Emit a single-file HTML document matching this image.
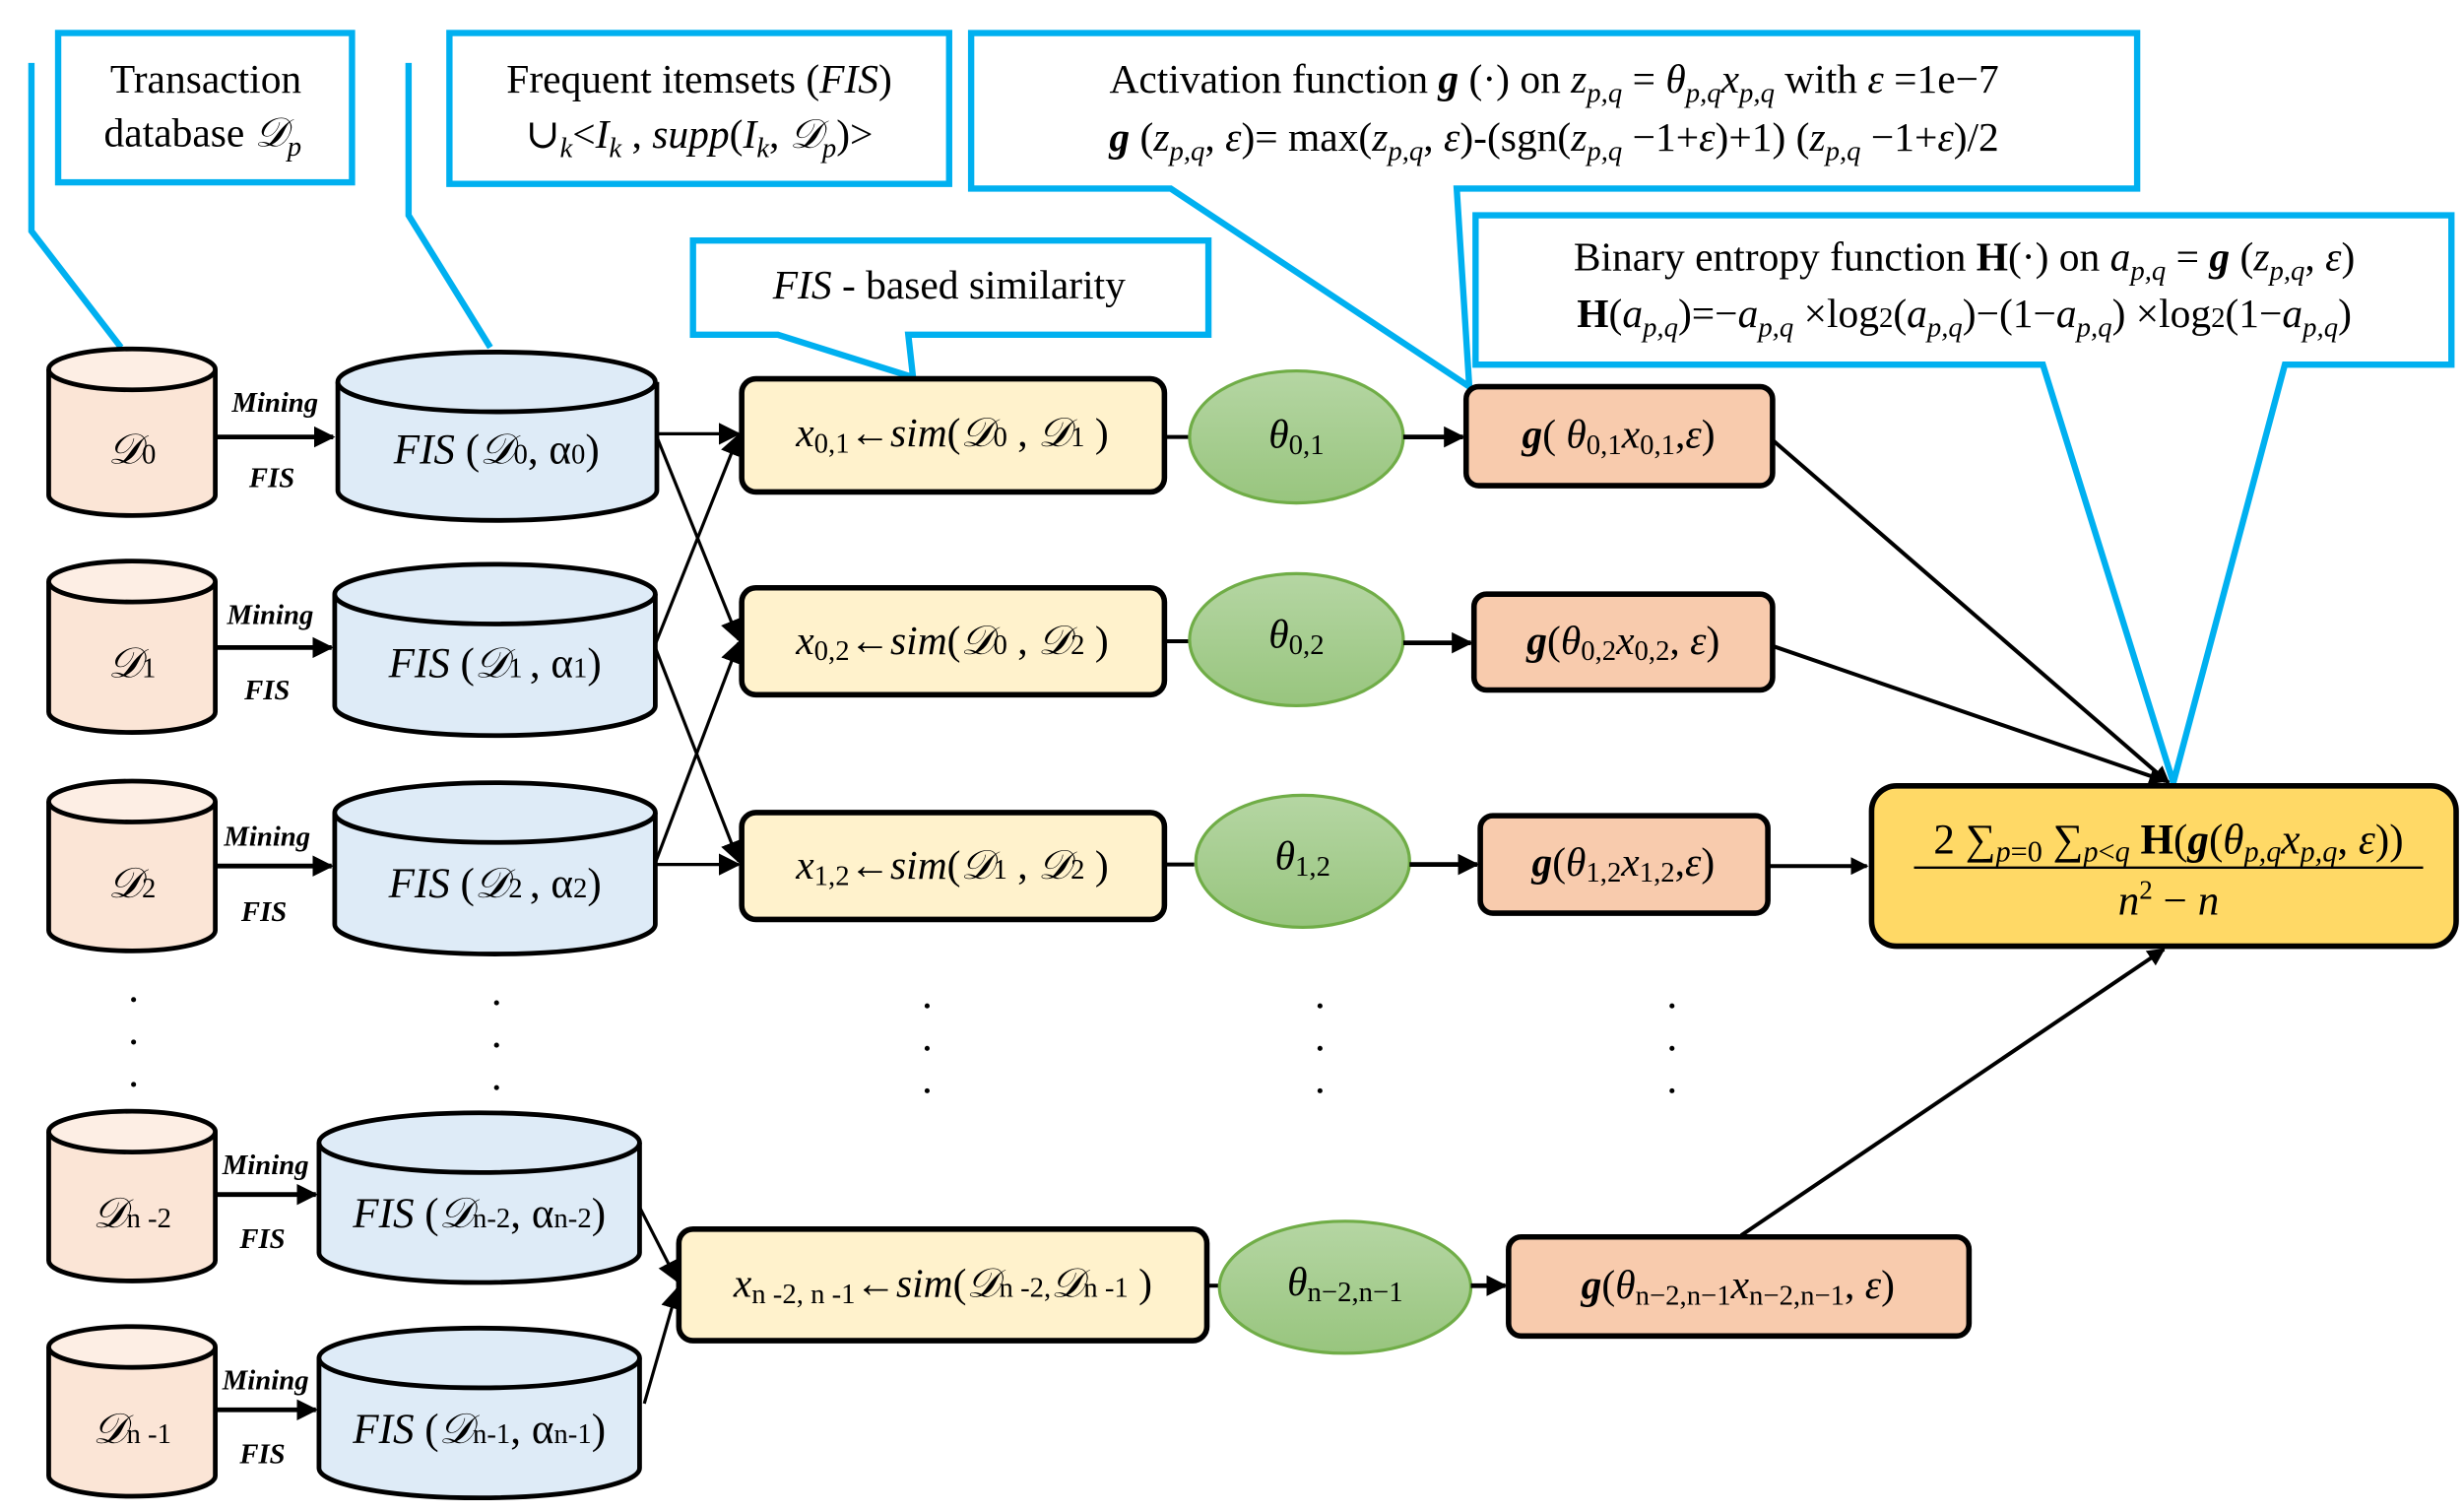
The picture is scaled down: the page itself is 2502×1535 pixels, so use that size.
<!DOCTYPE html>
<html><head><meta charset="utf-8"><style>
html,body{margin:0;padding:0;background:#fff;}
svg{display:block;}
svg text, svg tspan{font-family:"Liberation Serif","DejaVu Serif",serif;fill:#000;}
</style></head><body>
<svg width="2502" height="1535" viewBox="0 0 1568 962" preserveAspectRatio="none" xmlns="http://www.w3.org/2000/svg" font-family="Liberation Serif, DejaVu Serif, serif">
<defs>
<marker id="ah" viewBox="0 0 10 10" refX="9" refY="5" markerWidth="4.5" markerHeight="4.5" orient="auto" markerUnits="strokeWidth"><path d="M0,0L10,5L0,10z" fill="#000"/></marker>
<marker id="ah2" viewBox="0 0 10 10" refX="9" refY="5" markerWidth="7" markerHeight="7" orient="auto" markerUnits="strokeWidth"><path d="M0,0L10,5L0,10z" fill="#000"/></marker>
<linearGradient id="gr" x1="0" y1="0" x2="0" y2="1"><stop offset="0" stop-color="#b5d6a3"/><stop offset="1" stop-color="#98c57e"/></linearGradient>
</defs>

<!-- callouts -->
<g fill="#fff" stroke="#00b0f0" stroke-width="4">
<rect x="37" y="21" width="187" height="95"/>
<polyline points="20,40 20,147 77,221" fill="none"/>
<rect x="286" y="21" width="318" height="96"/>
<polyline points="260,40 260,137 312,221" fill="none"/>
<polygon points="618,21 1360,21 1360,120 927,120 935,246 745,120 618,120"/>
<polygon points="939,137 1560,137 1560,232 1454,232 1383,498 1300,232 939,232"/>
<polygon points="441,153 769,153 769,213 578,213 581,240 495,213 441,213"/>
</g>
<g font-size="26" text-anchor="middle">
<text x="131" y="59">Transaction</text>
<text x="129" y="93">database <tspan font-style="italic">𝒟<tspan font-size="18" dy="6">p</tspan></tspan></text>
<text x="445" y="59">Frequent itemsets (<tspan font-style="italic">FIS</tspan>)</text>
<text x="445" y="94">∪<tspan font-style="italic" font-size="18" dy="6">k</tspan><tspan dy="-6">&lt;</tspan><tspan font-style="italic">I<tspan font-size="18" dy="6">k</tspan></tspan><tspan dy="-6"> , </tspan><tspan font-style="italic">supp</tspan>(<tspan font-style="italic">I<tspan font-size="18" dy="6">k</tspan></tspan><tspan dy="-6">, </tspan><tspan font-style="italic">𝒟<tspan font-size="18" dy="6">p</tspan></tspan><tspan dy="-6">)&gt;</tspan></text>
<text x="989" y="59">Activation function <tspan font-weight="bold" font-style="italic">g</tspan> (·) on <tspan font-style="italic">z<tspan font-size="18" dy="6">p,q</tspan></tspan><tspan dy="-6"> = </tspan><tspan font-style="italic">θ<tspan font-size="18" dy="6">p,q</tspan><tspan dy="-6">x</tspan><tspan font-size="18" dy="6">p,q</tspan></tspan><tspan dy="-6"> with </tspan><tspan font-style="italic">ε</tspan> =1e−7</text>
<text x="989" y="96"><tspan font-weight="bold" font-style="italic">g</tspan> (<tspan font-style="italic">z<tspan font-size="18" dy="6">p,q</tspan></tspan><tspan dy="-6">, </tspan><tspan font-style="italic">ε</tspan>)= max(<tspan font-style="italic">z<tspan font-size="18" dy="6">p,q</tspan></tspan><tspan dy="-6">, </tspan><tspan font-style="italic">ε</tspan>)-(sgn(<tspan font-style="italic">z<tspan font-size="18" dy="6">p,q</tspan></tspan><tspan dy="-6"> −1+</tspan><tspan font-style="italic">ε</tspan>)+1) (<tspan font-style="italic">z<tspan font-size="18" dy="6">p,q</tspan></tspan><tspan dy="-6"> −1+</tspan><tspan font-style="italic">ε</tspan>)/2</text>
<text x="1250" y="172">Binary entropy function <tspan font-weight="bold">H</tspan>(·) on <tspan font-style="italic">a<tspan font-size="18" dy="6">p,q</tspan></tspan><tspan dy="-6"> = </tspan><tspan font-weight="bold" font-style="italic">g</tspan> (<tspan font-style="italic">z<tspan font-size="18" dy="6">p,q</tspan></tspan><tspan dy="-6">, </tspan><tspan font-style="italic">ε</tspan>)</text>
<text x="1250" y="208"><tspan font-weight="bold">H</tspan>(<tspan font-style="italic">a<tspan font-size="18" dy="6">p,q</tspan></tspan><tspan dy="-6">)=−</tspan><tspan font-style="italic">a<tspan font-size="18" dy="6">p,q</tspan></tspan><tspan dy="-6"> ×log</tspan><tspan font-size="18">2</tspan>(<tspan font-style="italic">a<tspan font-size="18" dy="6">p,q</tspan></tspan><tspan dy="-6">)−(1−</tspan><tspan font-style="italic">a<tspan font-size="18" dy="6">p,q</tspan></tspan><tspan dy="-6">) ×log</tspan><tspan font-size="18">2</tspan>(1−<tspan font-style="italic">a<tspan font-size="18" dy="6">p,q</tspan></tspan><tspan dy="-6">)</tspan></text>
<text x="604" y="190"><tspan font-style="italic">FIS</tspan> - based similarity</text>
</g>

<!-- D cylinders -->
<g stroke="#000" stroke-width="3" fill="#fbe5d6">
<path d="M31,235 L31,315 A53,13 0 0 0 137,315 L137,235"/><ellipse cx="84" cy="235" rx="53" ry="13" fill="#fdeee4"/>
<path d="M31,370 L31,453 A53,13 0 0 0 137,453 L137,370"/><ellipse cx="84" cy="370" rx="53" ry="13" fill="#fdeee4"/>
<path d="M31,510 L31,592 A53,13 0 0 0 137,592 L137,510"/><ellipse cx="84" cy="510" rx="53" ry="13" fill="#fdeee4"/>
<path d="M31,720 L31,802 A53,13 0 0 0 137,802 L137,720"/><ellipse cx="84" cy="720" rx="53" ry="13" fill="#fdeee4"/>
<path d="M31,857 L31,939 A53,13 0 0 0 137,939 L137,857"/><ellipse cx="84" cy="857" rx="53" ry="13" fill="#fdeee4"/>
</g>
<!-- FIS cylinders -->
<g stroke="#000" stroke-width="3" fill="#deebf7">
<path d="M215,243 L215,312 A101,19 0 0 0 418,312 L418,243"/><ellipse cx="316" cy="243" rx="101" ry="19"/>
<path d="M213,378 L213,449 A102,19 0 0 0 417,449 L417,378"/><ellipse cx="315" cy="378" rx="102" ry="19"/>
<path d="M213,517 L213,588 A102,19 0 0 0 417,588 L417,517"/><ellipse cx="315" cy="517" rx="102" ry="19"/>
<path d="M203,727 L203,797 A102,19 0 0 0 407,797 L407,727"/><ellipse cx="305" cy="727" rx="102" ry="19"/>
<path d="M203,864 L203,934 A102,19 0 0 0 407,934 L407,864"/><ellipse cx="305" cy="864" rx="102" ry="19"/>
</g>
<g font-size="27" text-anchor="middle" font-style="italic">
<text x="84" y="295">𝒟<tspan font-style="normal" font-size="18">0</tspan></text>
<text x="84" y="431">𝒟<tspan font-style="normal" font-size="18">1</tspan></text>
<text x="84" y="571">𝒟<tspan font-style="normal" font-size="18">2</tspan></text>
<text x="84" y="781">𝒟<tspan font-style="normal" font-size="18">n -2</tspan></text>
<text x="84" y="918">𝒟<tspan font-style="normal" font-size="18">n -1</tspan></text>
<text x="316" y="295">FIS <tspan font-style="normal">(</tspan>𝒟<tspan font-style="normal" font-size="18">0</tspan><tspan font-style="normal">, α</tspan><tspan font-style="normal" font-size="18">0</tspan><tspan font-style="normal">)</tspan></text>
<text x="315" y="431">FIS <tspan font-style="normal">(</tspan>𝒟<tspan font-style="normal" font-size="18">1 </tspan><tspan font-style="normal">, α</tspan><tspan font-style="normal" font-size="18">1</tspan><tspan font-style="normal">)</tspan></text>
<text x="315" y="571">FIS <tspan font-style="normal">(</tspan>𝒟<tspan font-style="normal" font-size="18">2 </tspan><tspan font-style="normal">, α</tspan><tspan font-style="normal" font-size="18">2</tspan><tspan font-style="normal">)</tspan></text>
<text x="305" y="781">FIS <tspan font-style="normal">(</tspan>𝒟<tspan font-style="normal" font-size="18">n-2</tspan><tspan font-style="normal">, α</tspan><tspan font-style="normal" font-size="18">n-2</tspan><tspan font-style="normal">)</tspan></text>
<text x="305" y="918">FIS <tspan font-style="normal">(</tspan>𝒟<tspan font-style="normal" font-size="18">n-1</tspan><tspan font-style="normal">, α</tspan><tspan font-style="normal" font-size="18">n-1</tspan><tspan font-style="normal">)</tspan></text>
</g>
<!-- mining labels -->
<g font-size="18" font-weight="bold" font-style="italic" text-anchor="middle">
<text x="175" y="262">Mining</text><text x="173" y="310">FIS</text>
<text x="172" y="397">Mining</text><text x="170" y="445">FIS</text>
<text x="170" y="538">Mining</text><text x="168" y="586">FIS</text>
<text x="169" y="747">Mining</text><text x="167" y="794">FIS</text>
<text x="169" y="884">Mining</text><text x="167" y="931">FIS</text>
</g>
<g stroke="#000" stroke-width="3" fill="none" marker-end="url(#ah)">
<line x1="137" y1="278" x2="212" y2="278"/>
<line x1="137" y1="412" x2="211" y2="412"/>
<line x1="137" y1="551" x2="211" y2="551"/>
<line x1="137" y1="760" x2="201" y2="760"/>
<line x1="137" y1="897" x2="201" y2="897"/>
</g>
<g stroke="#000" stroke-width="2" fill="none" marker-end="url(#ah2)">
<line x1="418" y1="276" x2="470" y2="276"/>
<line x1="418" y1="278" x2="470" y2="407"/>
<line x1="417" y1="410" x2="470" y2="277"/>
<line x1="417" y1="412" x2="470" y2="548"/>
<line x1="417" y1="549" x2="470" y2="409"/>
<line x1="417" y1="550" x2="470" y2="550"/>
<line x1="407" y1="768" x2="431" y2="815"/>
<line x1="410" y1="893" x2="431" y2="820"/>
</g>

<!-- sim boxes -->
<g stroke="#000" stroke-width="3.5" fill="#fff2cc">
<rect x="472" y="241" width="269" height="72" rx="9"/>
<rect x="472" y="374" width="269" height="68" rx="9"/>
<rect x="472" y="517" width="269" height="68" rx="9"/>
<rect x="432" y="782" width="336" height="71" rx="9"/>
</g>
<g font-size="26" text-anchor="middle" font-style="italic">
<text x="606" y="284">x<tspan font-style="normal" font-size="18" dy="4">0,1</tspan><tspan font-style="normal" dy="-4">←</tspan>sim<tspan font-style="normal">(</tspan>𝒟<tspan font-style="normal" font-size="18">0</tspan><tspan font-style="normal"> , </tspan>𝒟<tspan font-style="normal" font-size="18">1</tspan><tspan font-style="normal"> )</tspan></text>
<text x="606" y="416">x<tspan font-style="normal" font-size="18" dy="4">0,2</tspan><tspan font-style="normal" dy="-4">←</tspan>sim<tspan font-style="normal">(</tspan>𝒟<tspan font-style="normal" font-size="18">0</tspan><tspan font-style="normal"> , </tspan>𝒟<tspan font-style="normal" font-size="18">2</tspan><tspan font-style="normal"> )</tspan></text>
<text x="606" y="559">x<tspan font-style="normal" font-size="18" dy="4">1,2</tspan><tspan font-style="normal" dy="-4">←</tspan>sim<tspan font-style="normal">(</tspan>𝒟<tspan font-style="normal" font-size="18">1</tspan><tspan font-style="normal"> , </tspan>𝒟<tspan font-style="normal" font-size="18">2</tspan><tspan font-style="normal"> )</tspan></text>
<text x="600" y="825">x<tspan font-style="normal" font-size="18" dy="4">n -2, n -1</tspan><tspan font-style="normal" dy="-4">←</tspan>sim<tspan font-style="normal">(</tspan>𝒟<tspan font-style="normal" font-size="18">n -2,</tspan>𝒟<tspan font-style="normal" font-size="18">n -1</tspan><tspan font-style="normal"> )</tspan></text>
</g>
<g stroke="#000" stroke-width="2.5">
<line x1="741" y1="278" x2="757" y2="278"/>
<line x1="741" y1="408" x2="757" y2="408"/>
<line x1="741" y1="550" x2="760" y2="550"/>
<line x1="768" y1="818" x2="776" y2="818"/>
</g>
<g fill="url(#gr)" stroke="#70ad47" stroke-width="2">
<ellipse cx="825" cy="278" rx="68" ry="42"/>
<ellipse cx="825" cy="407" rx="68" ry="42"/>
<ellipse cx="829" cy="548" rx="68" ry="42"/>
<ellipse cx="856" cy="819" rx="80" ry="42"/>
</g>
<g font-size="26" text-anchor="middle" font-style="italic">
<text x="825" y="285">θ<tspan font-style="normal" font-size="18" dy="4">0,1</tspan></text>
<text x="825" y="412">θ<tspan font-style="normal" font-size="18" dy="4">0,2</tspan></text>
<text x="829" y="553">θ<tspan font-style="normal" font-size="18" dy="4">1,2</tspan></text>
<text x="856" y="824">θ<tspan font-style="normal" font-size="18" dy="4">n−2,n−1</tspan></text>
</g>
<g stroke="#000" stroke-width="3" fill="none" marker-end="url(#ah)">
<line x1="893" y1="278" x2="931" y2="278"/>
<line x1="893" y1="409" x2="936" y2="409"/>
<line x1="897" y1="550" x2="940" y2="550"/>
<line x1="936" y1="818" x2="958" y2="818"/>
</g>
<g stroke="#000" stroke-width="3.5" fill="#f8cbad">
<rect x="933" y="246" width="195" height="63" rx="8"/>
<rect x="938" y="378" width="190" height="61" rx="8"/>
<rect x="942" y="519" width="183" height="62" rx="8"/>
<rect x="960" y="787" width="293" height="63" rx="8"/>
</g>
<g font-size="26" text-anchor="middle">
<text x="1030" y="285"><tspan font-weight="bold" font-style="italic">g</tspan>( <tspan font-style="italic">θ</tspan><tspan font-size="18" dy="4">0,1</tspan><tspan font-style="italic" dy="-4">x</tspan><tspan font-size="18" dy="4">0,1</tspan><tspan dy="-4">,</tspan><tspan font-style="italic">ε</tspan>)</text>
<text x="1033" y="416"><tspan font-weight="bold" font-style="italic">g</tspan>(<tspan font-style="italic">θ</tspan><tspan font-size="18" dy="4">0,2</tspan><tspan font-style="italic" dy="-4">x</tspan><tspan font-size="18" dy="4">0,2</tspan><tspan dy="-4">, </tspan><tspan font-style="italic">ε</tspan>)</text>
<text x="1033" y="557"><tspan font-weight="bold" font-style="italic">g</tspan>(<tspan font-style="italic">θ</tspan><tspan font-size="18" dy="4">1,2</tspan><tspan font-style="italic" dy="-4">x</tspan><tspan font-size="18" dy="4">1,2</tspan><tspan dy="-4">,</tspan><tspan font-style="italic">ε</tspan>)</text>
<text x="1106" y="826"><tspan font-weight="bold" font-style="italic">g</tspan>(<tspan font-style="italic">θ</tspan><tspan font-size="18" dy="4">n−2,n−1</tspan><tspan font-style="italic" dy="-4">x</tspan><tspan font-size="18" dy="4">n−2,n−1</tspan><tspan dy="-4">, </tspan><tspan font-style="italic">ε</tspan>)</text>
</g>
<g stroke="#000" stroke-width="2.5" fill="none" marker-end="url(#ah)">
<line x1="1128" y1="280" x2="1380" y2="498"/>
<line x1="1128" y1="411" x2="1378" y2="497"/>
<line x1="1125" y1="551" x2="1188" y2="551"/>
<line x1="1108" y1="786" x2="1377" y2="604"/>
</g>
<rect x="1191" y="500" width="372" height="102" rx="16" fill="#ffd966" stroke="#000" stroke-width="3.5"/>
<g font-size="27" text-anchor="middle">
<text x="1380" y="543">2 ∑<tspan font-style="italic" font-size="19" dy="5">p</tspan><tspan font-size="19">=0</tspan><tspan dy="-5"> ∑</tspan><tspan font-style="italic" font-size="19" dy="5">p</tspan><tspan font-size="19">&lt;</tspan><tspan font-style="italic" font-size="19">q</tspan><tspan dy="-5" font-weight="bold"> H</tspan>(<tspan font-weight="bold" font-style="italic">g</tspan>(<tspan font-style="italic">θ</tspan><tspan font-style="italic" font-size="19" dy="5">p,q</tspan><tspan font-style="italic" dy="-5">x</tspan><tspan font-style="italic" font-size="19" dy="5">p,q</tspan><tspan dy="-5">, </tspan><tspan font-style="italic">ε</tspan>))</text>
<line x1="1218" y1="552" x2="1542" y2="552" stroke="#000" stroke-width="1.5"/>
<text x="1380" y="582"><tspan font-style="italic">n</tspan><tspan font-size="17" dy="-10">2</tspan><tspan dy="10"> − </tspan><tspan font-style="italic">n</tspan></text>
</g>
<g fill="#000">
<circle cx="85" cy="636" r="1.6"/><circle cx="85" cy="663" r="1.6"/><circle cx="85" cy="690" r="1.6"/>
<circle cx="316" cy="638" r="1.6"/><circle cx="316" cy="665" r="1.6"/><circle cx="316" cy="692" r="1.6"/>
<circle cx="590" cy="640" r="1.6"/><circle cx="590" cy="667" r="1.6"/><circle cx="590" cy="694" r="1.6"/>
<circle cx="840" cy="640" r="1.6"/><circle cx="840" cy="667" r="1.6"/><circle cx="840" cy="694" r="1.6"/>
<circle cx="1064" cy="640" r="1.6"/><circle cx="1064" cy="667" r="1.6"/><circle cx="1064" cy="694" r="1.6"/>
</g>
</svg>
</body></html>
